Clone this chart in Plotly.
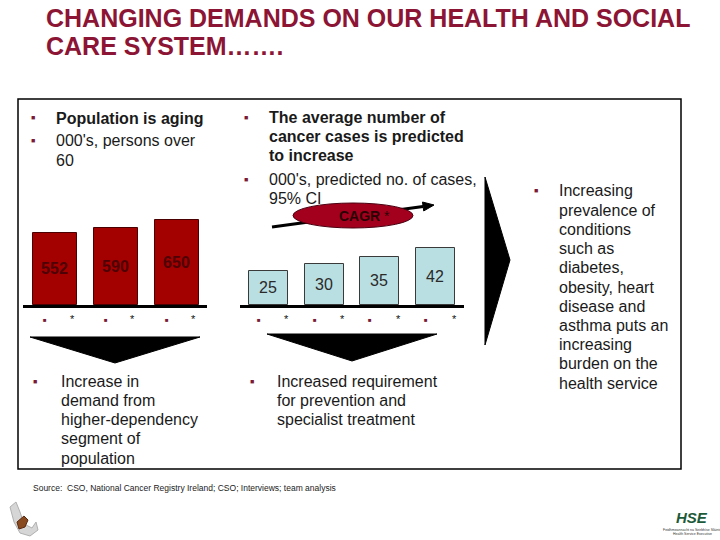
import math
import plotly.graph_objects as go

W, H = 720, 540

def px(x):
    return x / W

def py(y):
    return 1 - y / H

# ---------------- data ----------------
pop_labels = ["*", "*", "*"]
pop_values = [552, 590, 650]
cancer_labels = ["*", "*", "*", "*"]
cancer_values = [25, 30, 35, 42]

title_lines = ["CHANGING DEMANDS ON OUR HEALTH AND SOCIAL", "CARE SYSTEM……."]
left_head_bold = ["Population is aging"]
left_head = ["000's, persons over", "60"]
mid_head_bold = ["The average number of", "cancer cases is predicted", "to increase"]
mid_head = ["000's, predicted no. of cases,", "95% CI"]
right_text = ["Increasing", "prevalence of", "conditions", "such as", "diabetes,",
              "obesity, heart", "disease and", "asthma puts an", "increasing",
              "burden on the", "health service"]
left_bottom = ["Increase in", "demand from", "higher-dependency", "segment of", "population"]
mid_bottom = ["Increased requirement", "for prevention and", "specialist treatment"]
source_text = "Source:  CSO, National Cancer Registry Ireland; CSO; Interviews; team analysis"

FONT = "Liberation Sans, Arial, sans-serif"
TXT = "#1a1a1a"
BUL = "#7a1a35"
TITLE_C = "#8c1434"

fig = go.Figure()

fig.add_trace(go.Bar(
    x=list(range(len(pop_values))), y=pop_values, width=0.725,
    marker=dict(color="#a30000", line=dict(color="#4a0000", width=1)),
    text=["<b>%d</b>" % v for v in pop_values], textposition="inside",
    insidetextanchor="middle",
    textfont=dict(family=FONT, size=16, color="#4e0006"),
    xaxis="x", yaxis="y", hoverinfo="skip", showlegend=False,
))
fig.add_trace(go.Bar(
    x=list(range(len(cancer_values))), y=cancer_values, width=0.70,
    marker=dict(color="#b9dfe2", line=dict(color="#3a3a3a", width=1)),
    text=[str(v) for v in cancer_values], textposition="inside",
    insidetextanchor="middle",
    textfont=dict(family=FONT, size=16, color="#2a2a2a"),
    xaxis="x2", yaxis="y2", hoverinfo="skip", showlegend=False,
))

axis_common = dict(showgrid=False, zeroline=False, showticklabels=False, ticks="",
                   fixedrange=True)

annotations = []

def txt(x, y, s, size=16, color=TXT, bold=False, xanchor="left", family=FONT, **kw):
    if bold:
        s = "<b>" + s + "</b>"
    annotations.append(dict(x=px(x), y=py(y), xref="paper", yref="paper", text=s,
                            showarrow=False, xanchor=xanchor, yanchor="middle",
                            font=dict(family=family, size=size, color=color), **kw))

def bullet(x, y, size=7):
    txt(x, y, "■", size=size, color=BUL, xanchor="center")

# title
for i, line in enumerate(title_lines):
    txt(44, 18 + i * 28, line, size=25, color=TITLE_C, bold=True)

# left header
bullet(33, 117)
txt(54, 118, left_head_bold[0], bold=True)
bullet(33, 140)
for i, line in enumerate(left_head):
    txt(54, 140 + i * 20, line)

# middle header
bullet(246, 117)
for i, line in enumerate(mid_head_bold):
    txt(267, 117 + i * 19.5, line, bold=True)
bullet(246, 179)
for i, line in enumerate(mid_head):
    txt(267, 179 + i * 19.5, line)

# right column
bullet(536, 190)
for i, line in enumerate(right_text):
    txt(557, 191 + i * 19.2, line)

# bottom texts
bullet(35, 381)
for i, line in enumerate(left_bottom):
    txt(59, 381 + i * 19.3, line)
bullet(252, 381)
for i, line in enumerate(mid_bottom):
    txt(275, 381 + i * 19.3, line)

# source
txt(31, 488, source_text, size=8.5, color="#222222")

# category markers under bars (bullet + asterisk)
for i, lab in enumerate(pop_labels):
    annotations.append(dict(x=i, y=py(320), xref="x", yref="paper", text="■",
                            showarrow=False, xshift=-10, yanchor="middle",
                            font=dict(family=FONT, size=6, color=BUL)))
    annotations.append(dict(x=i, y=py(319), xref="x", yref="paper", text=lab,
                            showarrow=False, xshift=17, yanchor="middle",
                            font=dict(family=FONT, size=11, color="#111111")))
for i, lab in enumerate(cancer_labels):
    annotations.append(dict(x=i, y=py(320), xref="x2", yref="paper", text="■",
                            showarrow=False, xshift=-9.5, yanchor="middle",
                            font=dict(family=FONT, size=6, color=BUL)))
    annotations.append(dict(x=i, y=py(319), xref="x2", yref="paper", text=lab,
                            showarrow=False, xshift=18.5, yanchor="middle",
                            font=dict(family=FONT, size=11, color="#111111")))

# CAGR label
annotations.append(dict(x=px(364), y=py(215.5), xref="paper", yref="paper",
                        text="<b>CAGR</b> *", showarrow=False, xanchor="center",
                        yanchor="middle", font=dict(family=FONT, size=14, color="#2a0005")))

# HSE logo (approximation)
txt(692, 517, "<i><b>HSE</b></i>", size=15, color="#1d5a3a", xanchor="center")
txt(692, 530, "Feidhmeannacht na Seirbhíse Sláinte", size=3.5, color="#333", xanchor="center")
txt(692, 534, "Health Service Executive", size=3.5, color="#333", xanchor="center")

# ---------------- shapes ----------------
def path(points):
    s = "M " + " L ".join(f"{px(a):.5f},{py(b):.5f}" for a, b in points) + " Z"
    return s

shapes = []
# frame
shapes.append(dict(type="rect", xref="paper", yref="paper", x0=px(18), x1=px(681),
                   y0=py(469), y1=py(99), line=dict(color="black", width=1.5),
                   fillcolor="rgba(0,0,0,0)", layer="below"))
# down arrows
shapes.append(dict(type="path", xref="paper", yref="paper",
                   path=path([(30, 337), (200, 337), (115, 363)]),
                   fillcolor="black", line=dict(color="black", width=1)))
shapes.append(dict(type="path", xref="paper", yref="paper",
                   path=path([(267, 334), (437, 334), (352, 361)]),
                   fillcolor="black", line=dict(color="black", width=1)))
# right chevron
shapes.append(dict(type="path", xref="paper", yref="paper",
                   path=path([(485, 177), (510, 260), (485, 345)]),
                   fillcolor="black", line=dict(color="black", width=1)))
# CAGR arrow line + head
tx, ty, hx, hy = 272, 227, 434, 205
dx, dy = hx - tx, hy - ty
L = math.hypot(dx, dy)
ux, uy = dx / L, dy / L
nx, ny = -uy, ux
bx, by = hx - 11 * ux, hy - 11 * uy
shapes.append(dict(type="line", xref="paper", yref="paper", x0=px(tx), y0=py(ty),
                   x1=px(bx), y1=py(by), line=dict(color="black", width=3)))
shapes.append(dict(type="path", xref="paper", yref="paper",
                   path=path([(hx, hy), (bx + 4.5 * nx, by + 4.5 * ny), (bx - 4.5 * nx, by - 4.5 * ny)]),
                   fillcolor="black", line=dict(color="black", width=1)))
# CAGR ellipse
shapes.append(dict(type="circle", xref="paper", yref="paper", x0=px(293), x1=px(413),
                   y0=py(228), y1=py(203), fillcolor="#a3001e",
                   line=dict(color="#4a0010", width=1)))
# left-bottom logo (approximation)
shapes.append(dict(type="path", xref="paper", yref="paper",
                   path=path([(10, 507), (16, 502), (20, 512), (24, 524), (32, 528),
                              (36, 522), (38, 530), (30, 536), (20, 533), (14, 522)]),
                   fillcolor="#d6d6d6", line=dict(color="#b0b0b0", width=1)))
shapes.append(dict(type="path", xref="paper", yref="paper",
                   path=path([(17, 522), (24, 516), (28, 520), (25, 527), (19, 529)]),
                   fillcolor="#8a4a20", line=dict(color="#5a2a10", width=1)))

fig.update_layout(
    width=W, height=H, autosize=False,
    margin=dict(l=0, r=0, t=0, b=0),
    paper_bgcolor="white", plot_bgcolor="rgba(0,0,0,0)",
    bargap=0, showlegend=False,
    xaxis=dict(domain=[px(23), px(207)], range=[-0.527, 2.5], anchor="y",
               showline=True, linecolor="black", linewidth=3, **axis_common),
    yaxis=dict(domain=[py(305), py(200)], range=[0, 805], visible=False, fixedrange=True),
    xaxis2=dict(domain=[px(240), px(464)], range=[-0.51, 3.51], anchor="y2",
                showline=True, linecolor="black", linewidth=3, **axis_common),
    yaxis2=dict(domain=[py(305), py(236)], range=[0, 50.4], visible=False, fixedrange=True),
    shapes=shapes,
    annotations=annotations,
)

fig.write_html("out.html", config={"displayModeBar": False},
               post_script="document.body.style.margin='0';document.body.style.overflow='hidden';")
